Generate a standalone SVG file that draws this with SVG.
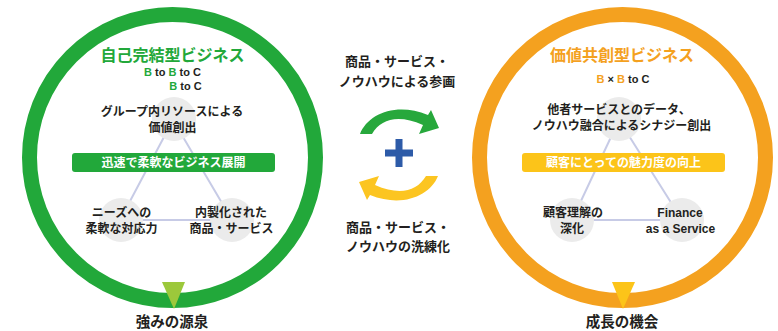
<svg xmlns="http://www.w3.org/2000/svg" width="778" height="331" viewBox="0 0 778 331">
<style>
text{font-family:"Liberation Sans","Noto Sans CJK JP",sans-serif;font-weight:bold;text-anchor:middle;fill:#231f20}
.jp{font-family:"Noto Sans CJK JP","Liberation Sans",sans-serif}
.t{font-size:16px}
.s{font-size:12px}
.bc{font-size:11px}
.w{fill:#fff}
.gb{fill:#22a83a}
.ob{fill:#f4a11f}
.bub{fill:#ebebeb}
.ln{stroke:#c7cbe6;stroke-width:2;fill:none}
</style>
<rect width="778" height="331" fill="#fff"/>
<g id="left-circle">
<circle cx="172.5" cy="157.5" r="143" fill="none" stroke="#22a83a" stroke-width="15"/>
<polygon points="162,282 185,282 174,309" fill="#9cc83b"/>
<text class="jp t" x="172.5" y="61" style="fill:#22a83a">自己完結型ビジネス</text>
<text class="bc" x="172.5" y="76"><tspan class="gb">B</tspan> to <tspan class="gb">B</tspan> to C</text>
<text class="bc" x="185.5" y="90"><tspan class="gb">B</tspan> to C</text>
<polyline class="ln" points="173,120 120,220 232,220 173,120"/>
<circle class="bub" cx="174" cy="119" r="22"/>
<circle class="bub" cx="121" cy="220" r="22"/>
<circle class="bub" cx="232" cy="220" r="22"/>
<text class="jp s" x="172" y="116">グループ内リソースによる</text>
<text class="jp s" x="172.5" y="132">価値創出</text>
<rect x="72" y="153" width="203" height="19" rx="3" fill="#22a83a"/>
<text class="jp s" x="173.5" y="167" style="fill:#fff">迅速で柔軟なビジネス展開</text>
<text class="jp s" x="121.5" y="217">ニーズへの</text>
<text class="jp s" x="121.5" y="233">柔軟な対応力</text>
<text class="jp s" x="231" y="217">内製化された</text>
<text class="jp s" x="231.5" y="233">商品・サービス</text>
<text class="jp" x="172" y="327" style="font-size:14.5px">強みの源泉</text>
</g>
<g id="center">
<text class="jp" x="397" y="66" style="font-size:13px">商品・サービス・</text>
<text class="jp" x="397" y="86" style="font-size:13px">ノウハウによる参画</text>
<path d="M360,134 C368,114 396,102 428,115 L431,110 L439,128 L419,134 L423,125 C398,114 381,119 372,134 Z" fill="#27a83c"/>
<path d="M360,134 C368,114 396,102 428,115 L431,110 L439,128 L419,134 L423,125 C398,114 381,119 372,134 Z" fill="#fcc521" transform="rotate(180 399 155)"/>
<rect x="385" y="149.5" width="28" height="7" fill="#2d5ba8"/>
<rect x="395.5" y="139" width="7" height="28" fill="#2d5ba8"/>
<text class="jp" x="398" y="232" style="font-size:13px">商品・サービス・</text>
<text class="jp" x="398" y="251" style="font-size:13px">ノウハウの洗練化</text>
</g>
<g id="right-circle">
<circle cx="622.5" cy="157.5" r="143" fill="none" stroke="#f4a11f" stroke-width="15"/>
<polygon points="612,282 635,282 623,309" fill="#fcc419"/>
<text class="jp t" x="622" y="61" style="fill:#f4a11f">価値共創型ビジネス</text>
<text class="bc" x="623" y="83"><tspan class="ob">B</tspan> × <tspan class="ob">B</tspan> to C</text>
<polyline class="ln" points="619,120 572,220 682,220 619,120"/>
<circle class="bub" cx="619" cy="119" r="22"/>
<circle class="bub" cx="572" cy="220" r="22"/>
<circle class="bub" cx="682" cy="220" r="22"/>
<text class="jp s" x="619" y="114">他者サービスとのデータ、</text>
<text class="jp s" x="621.5" y="130">ノウハウ融合によるシナジー創出</text>
<rect x="522" y="153" width="203" height="19" rx="3" fill="#fcc419"/>
<text class="jp s" x="623.5" y="167" style="fill:#fff">顧客にとっての魅力度の向上</text>
<text class="jp s" x="573" y="217">顧客理解の</text>
<text class="jp s" x="572" y="233">深化</text>
<text class="s" x="680" y="217">Finance</text>
<text class="s" x="680.5" y="233">as a Service</text>
<text class="jp" x="622" y="327" style="font-size:14.5px">成長の機会</text>
</g>
</svg>
